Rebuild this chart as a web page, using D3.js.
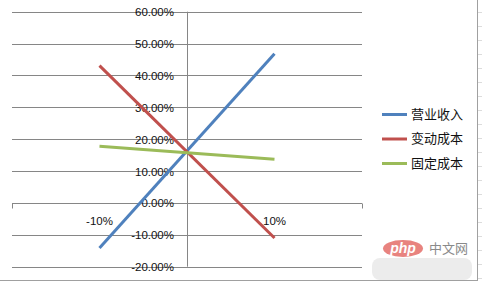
<!DOCTYPE html>
<html><head><meta charset="utf-8">
<script src="https://cdn.jsdelivr.net/npm/d3@7"></script>
<style>html,body{margin:0;padding:0;background:#fff;}svg{display:block;}</style>
</head><body>
<svg id="c" width="482" height="282"></svg>
<script>
const categories = ["-10%", "10%"];
const seriesNames = ["营业收入", "变动成本", "固定成本"];
const revenue = [-14.1, 46.8];
const variableCost = [43.1, -11.0];
const fixedCost = [17.8, 13.7];
const yTicks = [-20, -10, 0, 10, 20, 30, 40, 50, 60];
const colors = ["#4F81BD", "#C0504D", "#9BBB59"];

const series = [revenue, variableCost, fixedCost];
const svg = d3.select("#c");

const x0 = 12, x1 = 362, yTop = 11.7, yBot = 266.7;
const y = d3.scaleLinear().domain([-20, 60]).range([yBot, yTop]);
const xBand = d3.scaleBand().domain(categories).range([x0, x1]);
const xC = c => xBand(c) + xBand.bandwidth() / 2;
const midX = (x0 + x1) / 2;

// gridlines
svg.append("g").selectAll("line").data(yTicks).join("line")
  .attr("x1", x0).attr("x2", x1)
  .attr("y1", d => Math.round(y(d)) + 0.5).attr("y2", d => Math.round(y(d)) + 0.5)
  .attr("stroke", "#868686").attr("stroke-width", 1);

// value axis (vertical) at the middle
svg.append("line").attr("x1", Math.round(midX) + 0.5).attr("x2", Math.round(midX) + 0.5)
  .attr("y1", y(60)).attr("y2", y(-20)).attr("stroke", "#868686");

// category axis ticks at zero
const y0 = Math.round(y(0)) + 0.5;
svg.append("g").selectAll("line").data([x0, x1]).join("line")
  .attr("x1", d => Math.round(d) + 0.5).attr("x2", d => Math.round(d) + 0.5)
  .attr("y1", y0).attr("y2", y0 + 5).attr("stroke", "#868686");

// y tick labels
svg.append("g").selectAll("text").data(yTicks).join("text")
  .attr("x", 174).attr("y", d => y(d) + 1.5)
  .attr("text-anchor", "end").attr("dominant-baseline", "middle")
  .attr("font-family", "Liberation Sans, Arial, sans-serif").attr("font-size", 11.5)
  .attr("fill", "#111")
  .text(d => d.toFixed(2) + "%");

// category labels
svg.append("g").selectAll("text").data(categories).join("text")
  .attr("x", d => xC(d)).attr("y", y(0) + 19)
  .attr("text-anchor", "middle").attr("dominant-baseline", "middle")
  .attr("font-family", "Liberation Sans, Arial, sans-serif").attr("font-size", 11.5)
  .attr("fill", "#111")
  .text(d => d);

// lines
const line = d3.line().x((d, i) => xC(categories[i])).y(d => y(d));
svg.append("g").selectAll("path").data(series).join("path")
  .attr("d", d => line(d)).attr("fill", "none")
  .attr("stroke", (d, i) => colors[i]).attr("stroke-width", 3)
  .attr("stroke-linecap", "butt");

// legend
const lg = svg.append("g").selectAll("g").data(seriesNames).join("g")
  .attr("transform", (d, i) => `translate(382, ${114.5 + i * 24.5})`);
lg.append("line").attr("x1", 0).attr("x2", 25).attr("y1", 0).attr("y2", 0)
  .attr("stroke", (d, i) => colors[i]).attr("stroke-width", 3);
lg.append("text").attr("x", 29).attr("y", 0.5).attr("dominant-baseline", "middle")
  .attr("font-family", "Noto Sans CJK SC, sans-serif").attr("font-size", 13)
  .attr("fill", "#111").text(d => d);

// chart frame (spreadsheet edges)
svg.append("line").attr("x1", 477.5).attr("x2", 477.5).attr("y1", 0).attr("y2", 281).attr("stroke", "#a0a0a0");
svg.append("line").attr("x1", 0).attr("x2", 478).attr("y1", 280.5).attr("y2", 280.5).attr("stroke", "#a0a0a0");
svg.append("g").selectAll("line").data(d3.range(12, 282, 14)).join("line")
  .attr("x1", 478).attr("x2", 482).attr("y1", d => d + 0.5).attr("y2", d => d + 0.5)
  .attr("stroke", "#dcdcdc");

// watermark
const wm = svg.append("g");
wm.append("rect").attr("x", 372).attr("y", 258).attr("width", 100).attr("height", 22)
  .attr("fill", "#ececec").attr("rx", 8);
wm.append("ellipse").attr("cx", 403).attr("cy", 248.5).attr("rx", 20).attr("ry", 8.5).attr("fill", "#e8837f");
wm.append("text").attr("x", 403).attr("y", 249).attr("text-anchor", "middle").attr("dominant-baseline", "middle")
  .attr("font-family", "Liberation Sans, Arial, sans-serif").attr("font-style", "italic").attr("font-weight", "bold")
  .attr("font-size", 14).attr("fill", "#fff").text("php");
wm.append("text").attr("x", 429).attr("y", 249).attr("dominant-baseline", "middle")
  .attr("font-family", "Noto Sans CJK SC, sans-serif").attr("font-size", 13).attr("fill", "#8a8a8a").text("中文网");
</script>
</body></html>
